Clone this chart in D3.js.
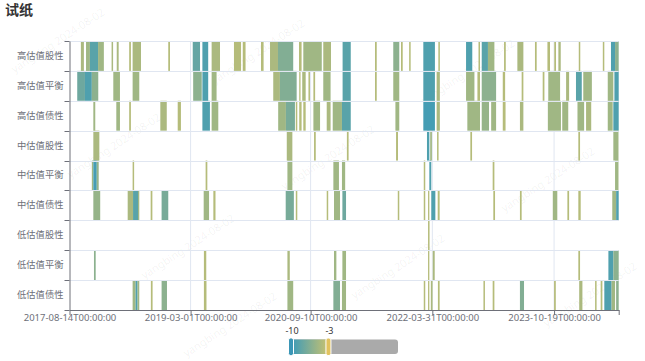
<!DOCTYPE html>
<html>
<head>
<meta charset="utf-8">
<script src="https://cdn.jsdelivr.net/npm/d3@7"></script>
<style>
  body { margin: 0; background: #fff; }
  svg { display: block; font-family: "Noto Sans", "Noto Sans CJK SC", sans-serif; }
</style>
</head>
<body>
<script>
// Row categories, top to bottom
const categories = ["高估值股性", "高估值平衡", "高估值债性", "中估值股性", "中估值平衡", "中估值债性", "低估值股性", "低估值平衡", "低估值债性"];

// x axis labels
const tickDates = ["2017-08-14", "2019-03-01", "2020-09-10", "2022-03-31", "2023-10-19"];
const axisStart = "2017-08-14";
const axisEnd = "2024-08-15";

// visualMap range
const mapMin = -10, mapMax = 10;
const rangeLow = -10, rangeHigh = -3;

const watermark = "yangbing 2024-08-02";

// runs of days in range: [start, end, value]
const highEquity = [
  ["2017-10-06", "2017-10-20", -4.5], ["2017-10-30", "2017-11-17", -5], ["2017-11-17", "2017-12-25", -8.5],
  ["2017-12-25", "2018-01-21", -5], ["2018-02-26", "2018-03-05", -4.5], ["2018-03-22", "2018-03-31", -4.5],
  ["2018-05-19", "2018-05-27", -4], ["2018-06-04", "2018-07-13", -4.5], ["2018-11-17", "2018-11-25", -4],
  ["2019-03-11", "2019-04-14", -8], ["2019-04-25", "2019-05-22", -9], ["2019-06-07", "2019-07-16", -4.5],
  ["2019-09-19", "2019-10-22", -4], ["2019-10-30", "2019-11-12", -4], ["2020-01-23", "2020-02-04", -4],
  ["2020-03-05", "2020-04-11", -4.5], ["2020-04-11", "2020-06-21", -6.5], ["2020-07-18", "2020-07-30", -4],
  ["2020-08-07", "2020-11-01", -5], ["2020-11-08", "2020-12-14", -4.5], ["2021-02-06", "2021-03-16", -8.5],
  ["2021-07-07", "2021-07-15", -4], ["2021-09-30", "2021-10-28", -6], ["2021-11-05", "2021-11-13", -4],
  ["2021-12-13", "2021-12-20", -4], ["2022-02-17", "2022-04-12", -9], ["2022-04-28", "2022-05-05", -4],
  ["2022-09-04", "2022-10-03", -9], ["2022-11-01", "2022-11-08", -4], ["2022-11-16", "2022-12-15", -8.5],
  ["2022-12-15", "2023-01-14", -5], ["2023-02-28", "2023-03-08", -4], ["2023-05-01", "2023-05-29", -4.5],
  ["2023-07-22", "2023-07-30", -4], ["2023-09-18", "2023-09-30", -4], ["2023-10-20", "2023-10-28", -4],
  ["2023-11-08", "2023-11-19", -4.5], ["2024-02-11", "2024-02-18", -4], ["2024-06-02", "2024-06-09", -4],
  ["2024-07-10", "2024-07-29", -9], ["2024-07-29", "2024-08-15", -6]
];
const highBalance = [
  ["2017-09-19", "2017-10-25", -7.5], ["2017-10-25", "2017-11-26", -9], ["2017-11-26", "2017-12-26", -6],
  ["2018-03-06", "2018-04-06", -5], ["2018-06-04", "2018-07-05", -5], ["2019-03-13", "2019-04-22", -6],
  ["2019-04-25", "2019-05-22", -9], ["2019-06-07", "2019-06-30", -5], ["2020-03-20", "2020-04-20", -4.5],
  ["2020-04-20", "2020-07-07", -6.5], ["2020-07-19", "2020-07-25", -4], ["2020-08-02", "2020-08-18", -4.5],
  ["2020-08-31", "2020-09-07", -4], ["2020-09-23", "2020-10-01", -4], ["2020-11-08", "2020-12-12", -5],
  ["2021-02-06", "2021-03-16", -8.5], ["2021-07-07", "2021-07-15", -4], ["2021-09-30", "2021-10-28", -5],
  ["2022-02-17", "2022-04-12", -9], ["2022-04-20", "2022-05-05", -4.5], ["2022-09-04", "2022-10-13", -5],
  ["2022-10-27", "2022-11-08", -4], ["2022-11-16", "2023-01-22", -6], ["2023-02-22", "2023-03-05", -4],
  ["2023-05-21", "2023-05-29", -4], ["2023-08-27", "2023-09-04", -4], ["2023-09-22", "2023-11-16", -5],
  ["2023-12-14", "2023-12-28", -4.5], ["2024-01-29", "2024-02-25", -8.5], ["2024-03-03", "2024-04-12", -5],
  ["2024-06-25", "2024-07-21", -5], ["2024-07-26", "2024-08-15", -9]
];
const highBond = [
  ["2017-12-03", "2017-12-12", -5], ["2018-03-20", "2018-04-06", -5], ["2018-05-19", "2018-05-27", -4],
  ["2018-10-11", "2018-11-10", -4.5], ["2018-12-31", "2019-01-15", -4], ["2019-04-25", "2019-05-30", -9],
  ["2019-06-07", "2019-07-08", -5], ["2020-04-12", "2020-05-18", -5], ["2020-05-18", "2020-06-29", -7],
  ["2020-07-03", "2020-07-10", -4], ["2020-07-19", "2020-07-30", -4], ["2020-08-07", "2020-08-18", -4],
  ["2020-09-23", "2020-10-24", -5], ["2020-11-24", "2020-12-12", -4.5], ["2020-12-22", "2021-02-03", -5],
  ["2021-02-03", "2021-03-16", -8.5], ["2021-10-10", "2021-10-28", -5], ["2022-02-17", "2022-04-12", -9.5],
  ["2022-04-20", "2022-05-05", -4.5], ["2022-09-10", "2022-11-08", -5], ["2022-11-16", "2022-12-20", -5.5],
  ["2022-12-30", "2023-01-22", -5], ["2023-02-22", "2023-03-07", -4], ["2023-05-13", "2023-05-29", -4.5],
  ["2023-09-20", "2023-11-20", -5], ["2023-11-26", "2023-12-24", -5], ["2024-02-05", "2024-03-07", -5],
  ["2024-03-16", "2024-04-09", -4.5], ["2024-06-25", "2024-07-18", -5], ["2024-07-21", "2024-08-15", -9]
];
const midEquity = [
  ["2017-12-03", "2017-12-31", -4.5], ["2020-05-22", "2020-06-17", -4.5], ["2020-09-26", "2020-10-04", -4],
  ["2021-02-26", "2021-03-06", -4], ["2021-10-13", "2021-10-22", -4], ["2022-03-06", "2022-03-17", -9],
  ["2022-03-21", "2022-03-29", -5], ["2022-04-22", "2022-04-29", -4], ["2022-09-24", "2022-10-02", -4],
  ["2024-02-09", "2024-02-17", -4], ["2024-07-21", "2024-08-14", -5]
];
const midBalance = [
  ["2017-11-26", "2017-12-03", -5], ["2017-12-03", "2017-12-19", -9.5], ["2017-12-19", "2017-12-28", -5.5],
  ["2018-06-04", "2018-06-11", -4], ["2019-05-10", "2019-05-18", -4], ["2020-05-25", "2020-06-17", -5],
  ["2020-12-25", "2021-01-20", -5], ["2021-02-03", "2021-02-18", -5], ["2022-02-19", "2022-02-26", -4],
  ["2022-03-17", "2022-03-26", -9], ["2023-01-06", "2023-01-14", -4], ["2024-07-29", "2024-08-14", -5]
];
const midBond = [
  ["2017-12-03", "2018-01-04", -5.5], ["2018-05-12", "2018-06-06", -4.5], ["2018-06-06", "2018-06-29", -8.5],
  ["2018-06-29", "2018-07-05", -5], ["2018-08-27", "2018-09-04", -4], ["2018-10-17", "2018-11-17", -7],
  ["2019-05-01", "2019-05-26", -5], ["2019-06-15", "2019-06-25", -4], ["2020-05-17", "2020-06-24", -7],
  ["2020-07-03", "2020-07-10", -4], ["2020-11-24", "2020-12-01", -4], ["2020-12-28", "2021-01-25", -5],
  ["2021-02-05", "2021-02-22", -7.5], ["2021-10-21", "2021-10-28", -4], ["2022-02-19", "2022-02-26", -4],
  ["2022-03-11", "2022-03-17", -4], ["2022-03-26", "2022-04-14", -9], ["2022-04-25", "2022-05-04", -4],
  ["2023-01-09", "2023-01-17", -4], ["2023-05-13", "2023-05-21", -4], ["2023-10-13", "2023-11-03", -5],
  ["2023-12-20", "2023-12-28", -4], ["2024-02-09", "2024-02-20", -4], ["2024-07-16", "2024-08-03", -5],
  ["2024-08-03", "2024-08-15", -9]
];
const lowEquity = [
  ["2022-03-11", "2022-03-18", -4]
];
const lowBalance = [
  ["2017-12-06", "2017-12-14", -6], ["2019-05-02", "2019-05-13", -4], ["2020-05-25", "2020-06-05", -4.5],
  ["2020-12-28", "2021-01-08", -5], ["2021-02-05", "2021-02-22", -5], ["2022-03-11", "2022-03-17", -4],
  ["2022-04-02", "2022-04-11", -4.5], ["2024-02-09", "2024-02-17", -4], ["2024-06-28", "2024-07-21", -9],
  ["2024-07-21", "2024-08-15", -6]
];
const lowBond = [
  ["2018-06-04", "2018-06-18", -5], ["2018-06-18", "2018-06-27", -9], ["2018-06-27", "2018-07-05", -5],
  ["2018-08-28", "2018-09-05", -4], ["2018-10-17", "2018-11-11", -6], ["2019-05-02", "2019-05-14", -4],
  ["2020-05-25", "2020-06-21", -5], ["2020-12-25", "2021-01-25", -6.5], ["2021-02-03", "2021-02-22", -5],
  ["2022-02-19", "2022-02-26", -4], ["2022-03-11", "2022-03-17", -4], ["2022-03-24", "2022-04-01", -4.5],
  ["2022-04-26", "2022-05-04", -4], ["2022-11-24", "2022-12-01", -4], ["2023-01-06", "2023-01-14", -4],
  ["2023-05-13", "2023-06-01", -6.5], ["2023-10-19", "2023-10-27", -4], ["2024-02-13", "2024-02-28", -4.5],
  ["2024-04-27", "2024-05-04", -4], ["2024-05-23", "2024-05-31", -4], ["2024-06-09", "2024-07-13", -9],
  ["2024-07-13", "2024-07-29", -5], ["2024-08-03", "2024-08-15", -6]
];
const rows = [highEquity, highBalance, highBond, midEquity, midBalance, midBond, lowEquity, lowBalance, lowBond];

const W = 645, H = 361;
const margin = { top: 41, right: 26.3, bottom: 51, left: 69.5 };
const parse = d3.timeParse("%Y-%m-%d");
const axisColor = "#6e7079", gridColor = "#e0e6f1";

const svg = d3.select("body").append("svg")
  .attr("width", W)
  .attr("height", H);

// faint watermark behind everything
const wmSpots = [[60, 44], [116, 149], [190, 250], [260, 55], [330, 161], [400, 270], [470, 75], [550, 183], [592, 298], [232, 328]];
svg.append("g")
  .selectAll("text")
  .data(wmSpots)
  .enter().append("text")
  .attr("transform", d => "translate(" + d[0] + "," + d[1] + ") rotate(-33)")
  .attr("text-anchor", "middle")
  .attr("font-size", 11)
  .attr("fill", "#000")
  .attr("fill-opacity", 0.06)
  .text(watermark);

// title
svg.append("text")
  .attr("x", 5)
  .attr("y", 15)
  .attr("font-size", 14)
  .attr("font-weight", "bold")
  .attr("fill", "#333")
  .text("试纸");

const x = d3.scaleTime()
  .domain([parse(axisStart), parse(axisEnd)])
  .range([margin.left, W - margin.right]);

const y = d3.scaleBand()
  .domain(categories)
  .range([margin.top, H - margin.bottom]);

const color = d3.scaleLinear()
  .domain([rangeLow, rangeHigh])
  .range(["#3b9ab9", "#c9c26f"]);

// cells
const cells = [];
rows.forEach((segs, i) => {
  segs.forEach(s => cells.push({ cat: categories[i], start: parse(s[0]), end: parse(s[1]), value: s[2] }));
});

// split lines
svg.append("g")
  .selectAll("line")
  .data(tickDates.slice(1))
  .enter().append("line")
  .attr("x1", d => x(parse(d)))
  .attr("x2", d => x(parse(d)))
  .attr("y1", margin.top)
  .attr("y2", H - margin.bottom)
  .attr("stroke", gridColor)
  .attr("stroke-width", 1);

svg.append("g")
  .selectAll("rect")
  .data(cells)
  .enter().append("rect")
  .attr("x", d => x(d.start))
  .attr("y", d => y(d.cat))
  .attr("width", d => Math.max(x(d.end) - x(d.start), 1.3))
  .attr("height", y.bandwidth())
  .attr("fill", d => color(d.value));

svg.append("g")
  .selectAll("line")
  .data(categories)
  .enter().append("line")
  .attr("x1", margin.left)
  .attr("x2", W - margin.right)
  .attr("y1", d => Math.round(y(d)) + 0.5)
  .attr("y2", d => Math.round(y(d)) + 0.5)
  .attr("stroke", gridColor)
  .attr("stroke-width", 1);

// x axis
const xAxis = svg.append("g")
  .attr("transform", "translate(0," + (H - margin.bottom) + ")")
  .call(d3.axisBottom(x)
    .tickValues(tickDates.map(parse).concat([parse(axisEnd)]))
    .tickFormat((d, i) => i < tickDates.length ? d3.timeFormat("%Y-%m-%d")(d) + "T00:00:00" : "")
    .tickSize(5)
    .tickSizeOuter(0)
    .tickPadding(0));
xAxis.select(".domain").attr("stroke", axisColor);
xAxis.selectAll(".tick line").attr("stroke", axisColor);
xAxis.selectAll("text")
  .attr("fill", axisColor)
  .attr("font-size", 9.5)
  .attr("dy", "0.65em")
  .attr("font-family", "Noto Sans, sans-serif");

// y axis
const yAxis = svg.append("g")
  .attr("transform", "translate(" + margin.left + ",0)")
  .call(d3.axisLeft(y).tickSize(0).tickSizeOuter(0).tickPadding(6));
yAxis.select(".domain").attr("stroke", axisColor);
yAxis.selectAll("text")
  .attr("fill", axisColor)
  .attr("font-size", 9.3)
  .attr("font-family", "Noto Sans CJK SC, sans-serif");

yAxis.selectAll(".bound")
  .data(categories.concat(["end"]))
  .enter().append("line")
  .attr("class", "bound")
  .attr("x1", -5)
  .attr("x2", 0)
  .attr("y1", (d, i) => Math.round(i < categories.length ? y(d) : y.range()[1]) + 0.5)
  .attr("y2", (d, i) => Math.round(i < categories.length ? y(d) : y.range()[1]) + 0.5)
  .attr("stroke", axisColor);

// visualMap slider
const s = d3.scaleLinear().domain([mapMin, mapMax]).range([291, 398]);
const barY = 339.5, barH = 14.5;

const grad = svg.append("defs").append("linearGradient")
  .attr("id", "vm");
grad.append("stop").attr("offset", "0%").attr("stop-color", color(rangeLow));
grad.append("stop").attr("offset", "100%").attr("stop-color", color(rangeHigh));

svg.append("rect")
  .attr("x", s(mapMin))
  .attr("y", barY)
  .attr("width", s(mapMax) - s(mapMin))
  .attr("height", barH)
  .attr("rx", 3)
  .attr("fill", "#aaaaaa");

svg.append("rect")
  .attr("x", s(rangeLow))
  .attr("y", barY)
  .attr("width", s(rangeHigh) - s(rangeLow))
  .attr("height", barH)
  .attr("fill", "url(#vm)");

const handles = [
  { v: rangeLow, fill: "#3b96b6" },
  { v: rangeHigh, fill: "#e2c25e" }
];
svg.append("g")
  .selectAll("rect")
  .data(handles)
  .enter().append("rect")
  .attr("x", d => s(d.v) - 2.5)
  .attr("y", barY - 1.5)
  .attr("width", 5)
  .attr("height", barH + 3)
  .attr("rx", 2)
  .attr("fill", d => d.fill)
  .attr("stroke", "#fff")
  .attr("stroke-width", 1);

svg.append("g")
  .selectAll("text")
  .data(handles)
  .enter().append("text")
  .attr("x", d => s(d.v) + 1)
  .attr("y", 334)
  .attr("text-anchor", "middle")
  .attr("font-size", 9)
  .attr("fill", "#333")
  .text(d => d.v);
</script>
</body>
</html>
